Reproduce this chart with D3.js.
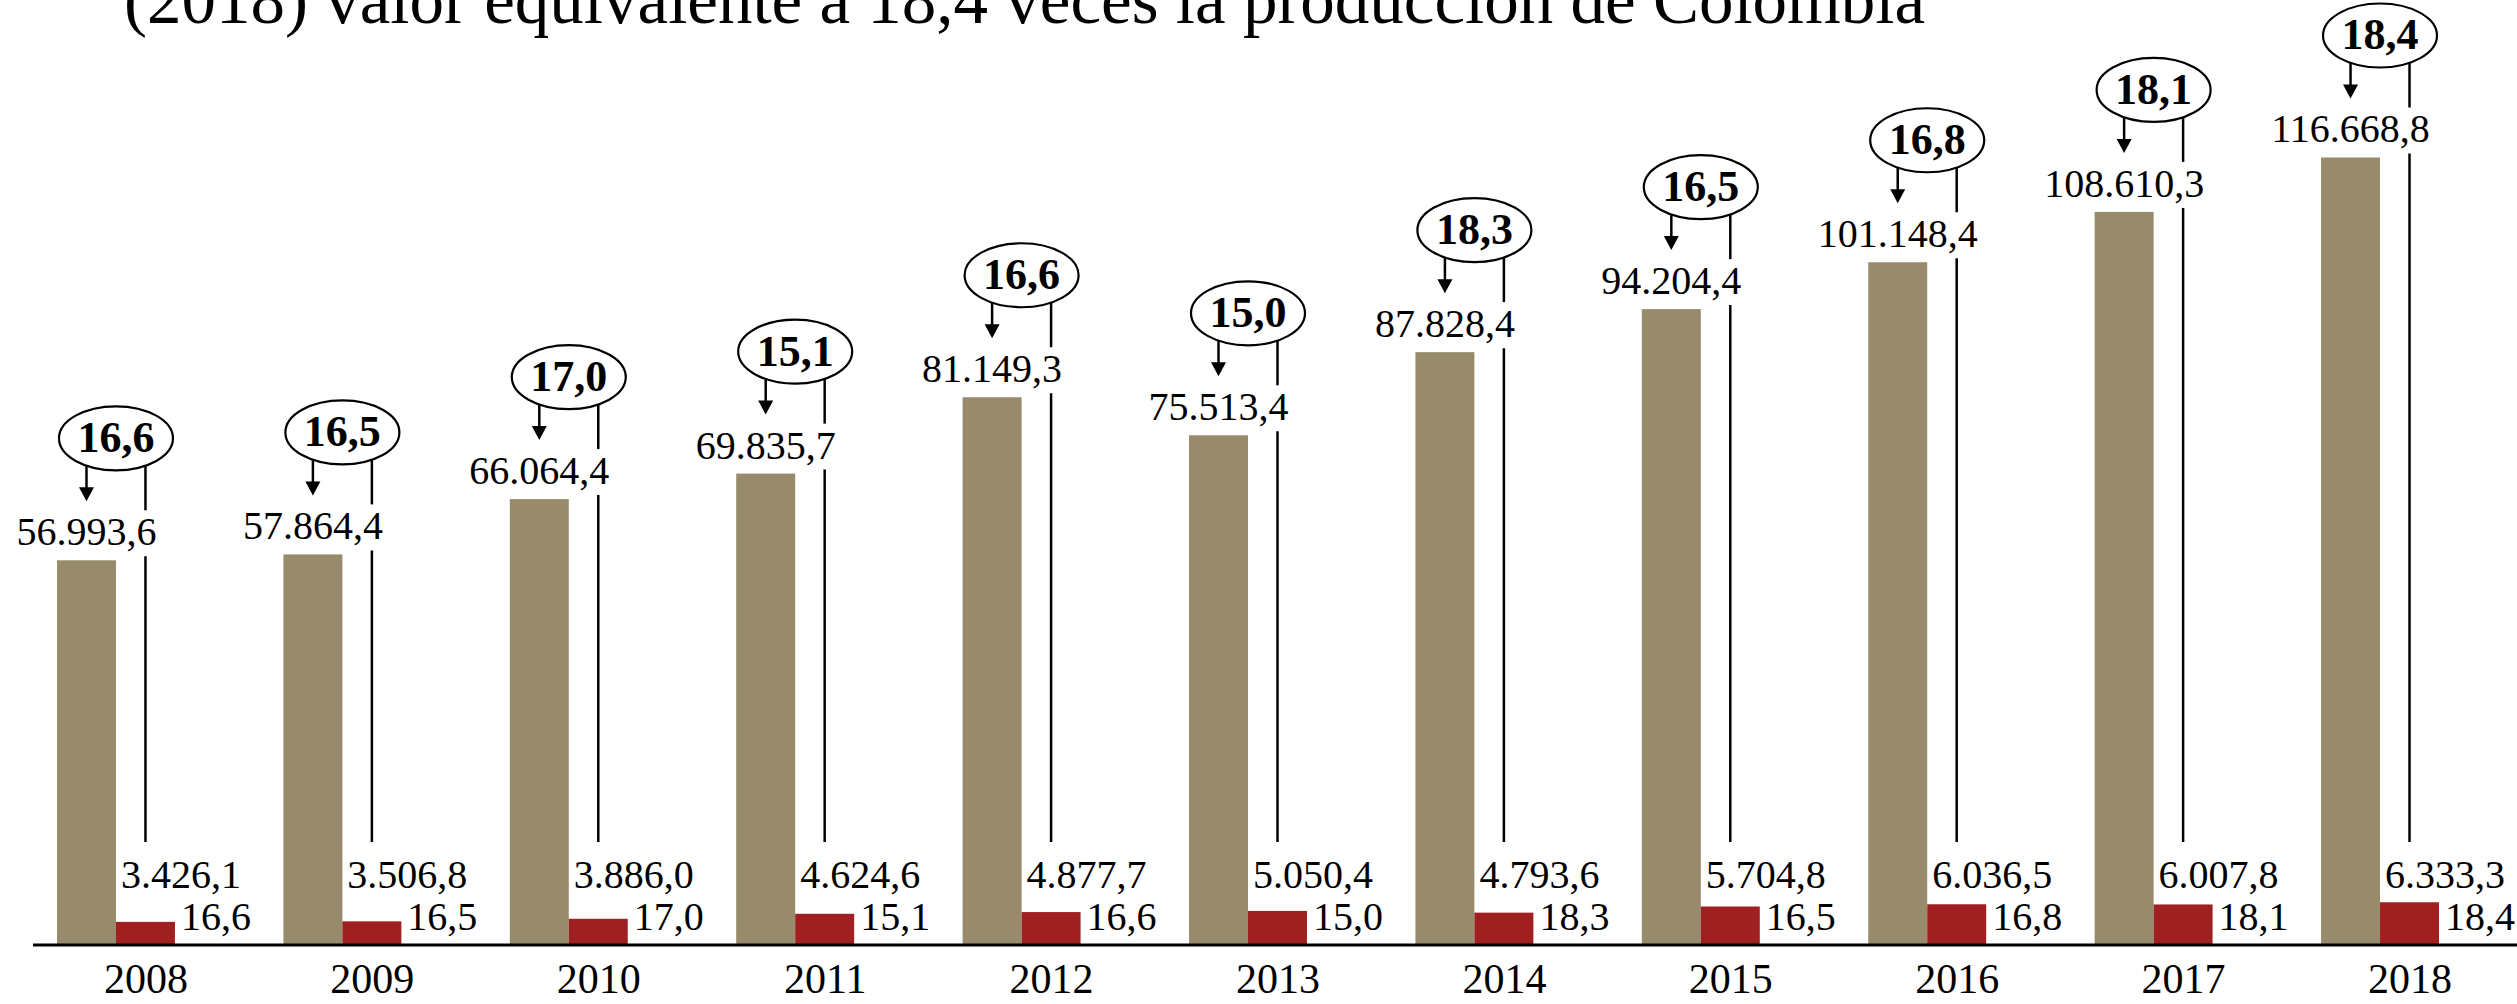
<!DOCTYPE html>
<html>
<head>
<meta charset="utf-8">
<script src="https://cdn.jsdelivr.net/npm/d3@7"></script>
<style>
  html, body { margin: 0; padding: 0; background: #fff; }
  svg { display: block; }
</style>
</head>
<body>
<svg id="chart" width="2517" height="1004"></svg>
<script>
const titleText = "(2018) valor equivalente a 18,4 veces la producción de Colombia";
const years = ["2008","2009","2010","2011","2012","2013","2014","2015","2016","2017","2018"];
const peruValues = [56993.6, 57864.4, 66064.4, 69835.7, 81149.3, 75513.4, 87828.4, 94204.4, 101148.4, 108610.3, 116668.8];
const colombiaValues = [3426.1, 3506.8, 3886.0, 4624.6, 4877.7, 5050.4, 4793.6, 5704.8, 6036.5, 6007.8, 6333.3];
const ratios = [16.6, 16.5, 17.0, 15.1, 16.6, 15.0, 18.3, 16.5, 16.8, 18.1, 18.4];
const seriesKeys = ["peru", "colombia"];

const W = 2517, H = 1004;
const axisY = 945;
const beige = "#978b6b", red = "#a02022";
const FONT = "Georgia, 'Liberation Serif', 'Times New Roman', serif";

const svg = d3.select("#chart");
const loc = d3.formatLocale({decimal: ",", thousands: ".", grouping: [3], currency: ["", ""]});
const fmt = loc.format(",.1f");

const x = d3.scaleBand().domain(years).range([57, 2439]).paddingInner(0.479).paddingOuter(0);
const xs = d3.scaleBand().domain(seriesKeys).range([0, x.bandwidth()]).padding(0);
const y = d3.scaleLinear().domain([0, 140000]).range([axisY, 0]);

const data = years.map((yr, i) => ({year: yr, peru: peruValues[i], colombia: colombiaValues[i], ratio: ratios[i]}));

// title (partially cut off at the top, as in the reference)
svg.append("text")
  .attr("x", 124).attr("y", 23)
  .attr("font-family", "'Liberation Serif', 'Times New Roman', serif")
  .attr("font-size", 69)
  .attr("fill", "#000")
  .text(titleText);

const g = svg.append("g");

// bars
const groups = g.selectAll("g.grp").data(data).join("g")
  .attr("class", "grp")
  .attr("transform", d => `translate(${x(d.year)},0)`);

groups.append("rect")
  .attr("x", xs("peru")).attr("width", xs.bandwidth())
  .attr("y", d => y(d.peru)).attr("height", d => y(0) - y(d.peru))
  .attr("fill", beige);

groups.append("rect")
  .attr("x", xs("colombia")).attr("width", xs.bandwidth())
  .attr("y", d => y(d.colombia)).attr("height", d => y(0) - y(d.colombia))
  .attr("fill", red);

// axis line
svg.append("line")
  .attr("x1", 33).attr("x2", W).attr("y1", axisY).attr("y2", axisY)
  .attr("stroke", "#000").attr("stroke-width", 3);

// year labels (centred on the red bar)
const xAxis = d3.axisBottom(d3.scalePoint().domain(years)
    .range([x(years[0]) + xs("colombia") + xs.bandwidth() / 2,
            x(years[years.length - 1]) + xs("colombia") + xs.bandwidth() / 2]))
  .tickSize(0).tickPadding(0);
const axG = svg.append("g").attr("transform", `translate(0,${axisY})`).call(xAxis);
axG.select(".domain").remove();
axG.selectAll("text")
  .attr("dy", null).attr("y", 48)
  .attr("font-family", FONT).attr("font-size", 42).attr("fill", "#000");

// labels and annotations
const ew = 57, eh = 32;
groups.each(function(d) {
  const sel = d3.select(this);
  const T = y(d.peru);
  const bc = xs("peru") + xs.bandwidth() / 2;       // beige centre
  const rc = xs("colombia") + xs.bandwidth() / 2;   // red centre
  const gc = x.bandwidth() / 2;                      // group centre
  const cy = T - 122;

  // value above beige bar
  sel.append("text")
    .attr("x", bc).attr("y", T - 15)
    .attr("text-anchor", "middle")
    .attr("font-family", FONT).attr("font-size", 40).attr("fill", "#000")
    .text(fmt(d.peru));

  // ellipse with ratio
  sel.append("ellipse")
    .attr("cx", gc).attr("cy", cy).attr("rx", ew).attr("ry", eh)
    .attr("fill", "#fff").attr("stroke", "#000").attr("stroke-width", 2.2);
  sel.append("text")
    .attr("x", gc).attr("y", cy + 14)
    .attr("text-anchor", "middle")
    .attr("font-family", FONT).attr("font-weight", "bold").attr("font-size", 44).attr("fill", "#000")
    .text(fmt(d.ratio));

  const ellY = dx => cy + eh * Math.sqrt(Math.max(0, 1 - (dx / ew) * (dx / ew)));

  // arrow to beige value
  const a0 = ellY(bc - gc);
  const tip = T - 59;
  sel.append("line")
    .attr("x1", bc).attr("x2", bc).attr("y1", a0).attr("y2", tip - 12)
    .attr("stroke", "#000").attr("stroke-width", 2.5);
  sel.append("path")
    .attr("d", `M${bc - 7.5},${tip - 14} L${bc + 7.5},${tip - 14} L${bc},${tip} Z`)
    .attr("fill", "#000");

  // vertical line to red value
  const l0 = ellY(rc - gc);
  sel.append("line")
    .attr("x1", rc).attr("x2", rc).attr("y1", l0).attr("y2", T - 50)
    .attr("stroke", "#000").attr("stroke-width", 2.5);
  sel.append("line")
    .attr("x1", rc).attr("x2", rc).attr("y1", T - 4).attr("y2", 842)
    .attr("stroke", "#000").attr("stroke-width", 2.5);

  // red value and ratio next to red bar
  sel.append("text")
    .attr("x", xs("colombia") + 5).attr("y", 888)
    .attr("font-family", FONT).attr("font-size", 40).attr("fill", "#000")
    .text(fmt(d.colombia));
  sel.append("text")
    .attr("x", xs("colombia") + xs.bandwidth() + 6).attr("y", 930)
    .attr("font-family", FONT).attr("font-size", 40).attr("fill", "#000")
    .text(fmt(d.ratio));
});
</script>
</body>
</html>
